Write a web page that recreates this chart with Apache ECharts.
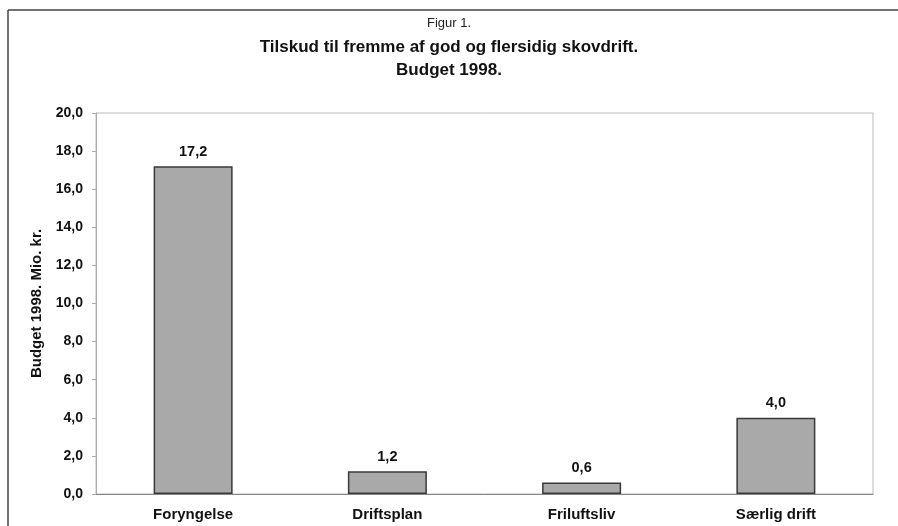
<!DOCTYPE html>
<html><head><meta charset="utf-8">
<script src="https://cdn.jsdelivr.net/npm/echarts@6/dist/echarts.min.js"></script>
<style>html,body{margin:0;padding:0;background:#fff}#c{width:898px;height:526px}</style>
</head><body><div id="c"></div>
<script>
const categories = ['Foryngelse', 'Driftsplan', 'Friluftsliv', 'Særlig drift'];
const values = [17.2, 1.2, 0.6, 4.0];
const yTicks = [0, 2, 4, 6, 8, 10, 12, 14, 16, 18, 20];
const titleLines = ['Figur 1.', 'Tilskud til fremme af god og flersidig skovdrift.', 'Budget 1998.'];
const yName = 'Budget 1998. Mio. kr.';

const fmt = v => v.toFixed(1).replace('.', ',');
const FF = 'Liberation Sans, Arial, sans-serif';
const chart = echarts.init(document.getElementById('c'), null, {renderer: 'canvas'});
chart.setOption({
  animation: false,
  backgroundColor: '#fff',
  textStyle: {fontFamily: FF},
  graphic: [
    {type: 'line', shape: {x1: 8, y1: 10, x2: 898, y2: 10}, style: {stroke: '#444', lineWidth: 1.5}},
    {type: 'line', shape: {x1: 8, y1: 10, x2: 8, y2: 526}, style: {stroke: '#444', lineWidth: 1.5}},
    {type: 'text', left: 'center', top: 17, style: {text: titleLines[0], font: '13px ' + FF, fill: '#222'}},
    {type: 'text', left: 'center', top: 39, style: {text: titleLines[1], font: 'bold 17px ' + FF, fill: '#111'}},
    {type: 'text', left: 'center', top: 62, style: {text: titleLines[2], font: 'bold 17px ' + FF, fill: '#111'}}
  ],
  grid: {left: 96, top: 113, width: 777, height: 381, show: true, borderColor: '#bbb', borderWidth: 1, containLabel: false},
  xAxis: {
    type: 'category', data: categories,
    axisLine: {lineStyle: {color: '#888'}},
    axisTick: {show: false},
    axisLabel: {color: '#111', fontSize: 15, fontWeight: 'bold', margin: 13}
  },
  yAxis: {
    type: 'value', min: 0, max: 20, interval: 2,
    name: yName, nameLocation: 'middle', nameGap: 45, nameRotate: 90,
    nameTextStyle: {color: '#111', fontSize: 15, fontWeight: 'bold'},
    axisLine: {show: true, lineStyle: {color: '#aaa'}},
    axisTick: {show: true, length: 4, lineStyle: {color: '#aaa'}},
    splitLine: {show: false},
    axisLabel: {color: '#111', fontSize: 14, fontWeight: 'bold', margin: 13,
      formatter: v => yTicks.includes(v) ? fmt(v) : ''}
  },
  series: [{
    type: 'bar', data: values, barWidth: 79,
    itemStyle: {color: '#a9a9a9', borderColor: '#3a3a3a', borderWidth: 1.5},
    label: {show: true, position: 'top', distance: 7, color: '#111', fontSize: 14.5, fontWeight: 'bold', formatter: p => fmt(p.value)}
  }]
});
</script></body></html>
